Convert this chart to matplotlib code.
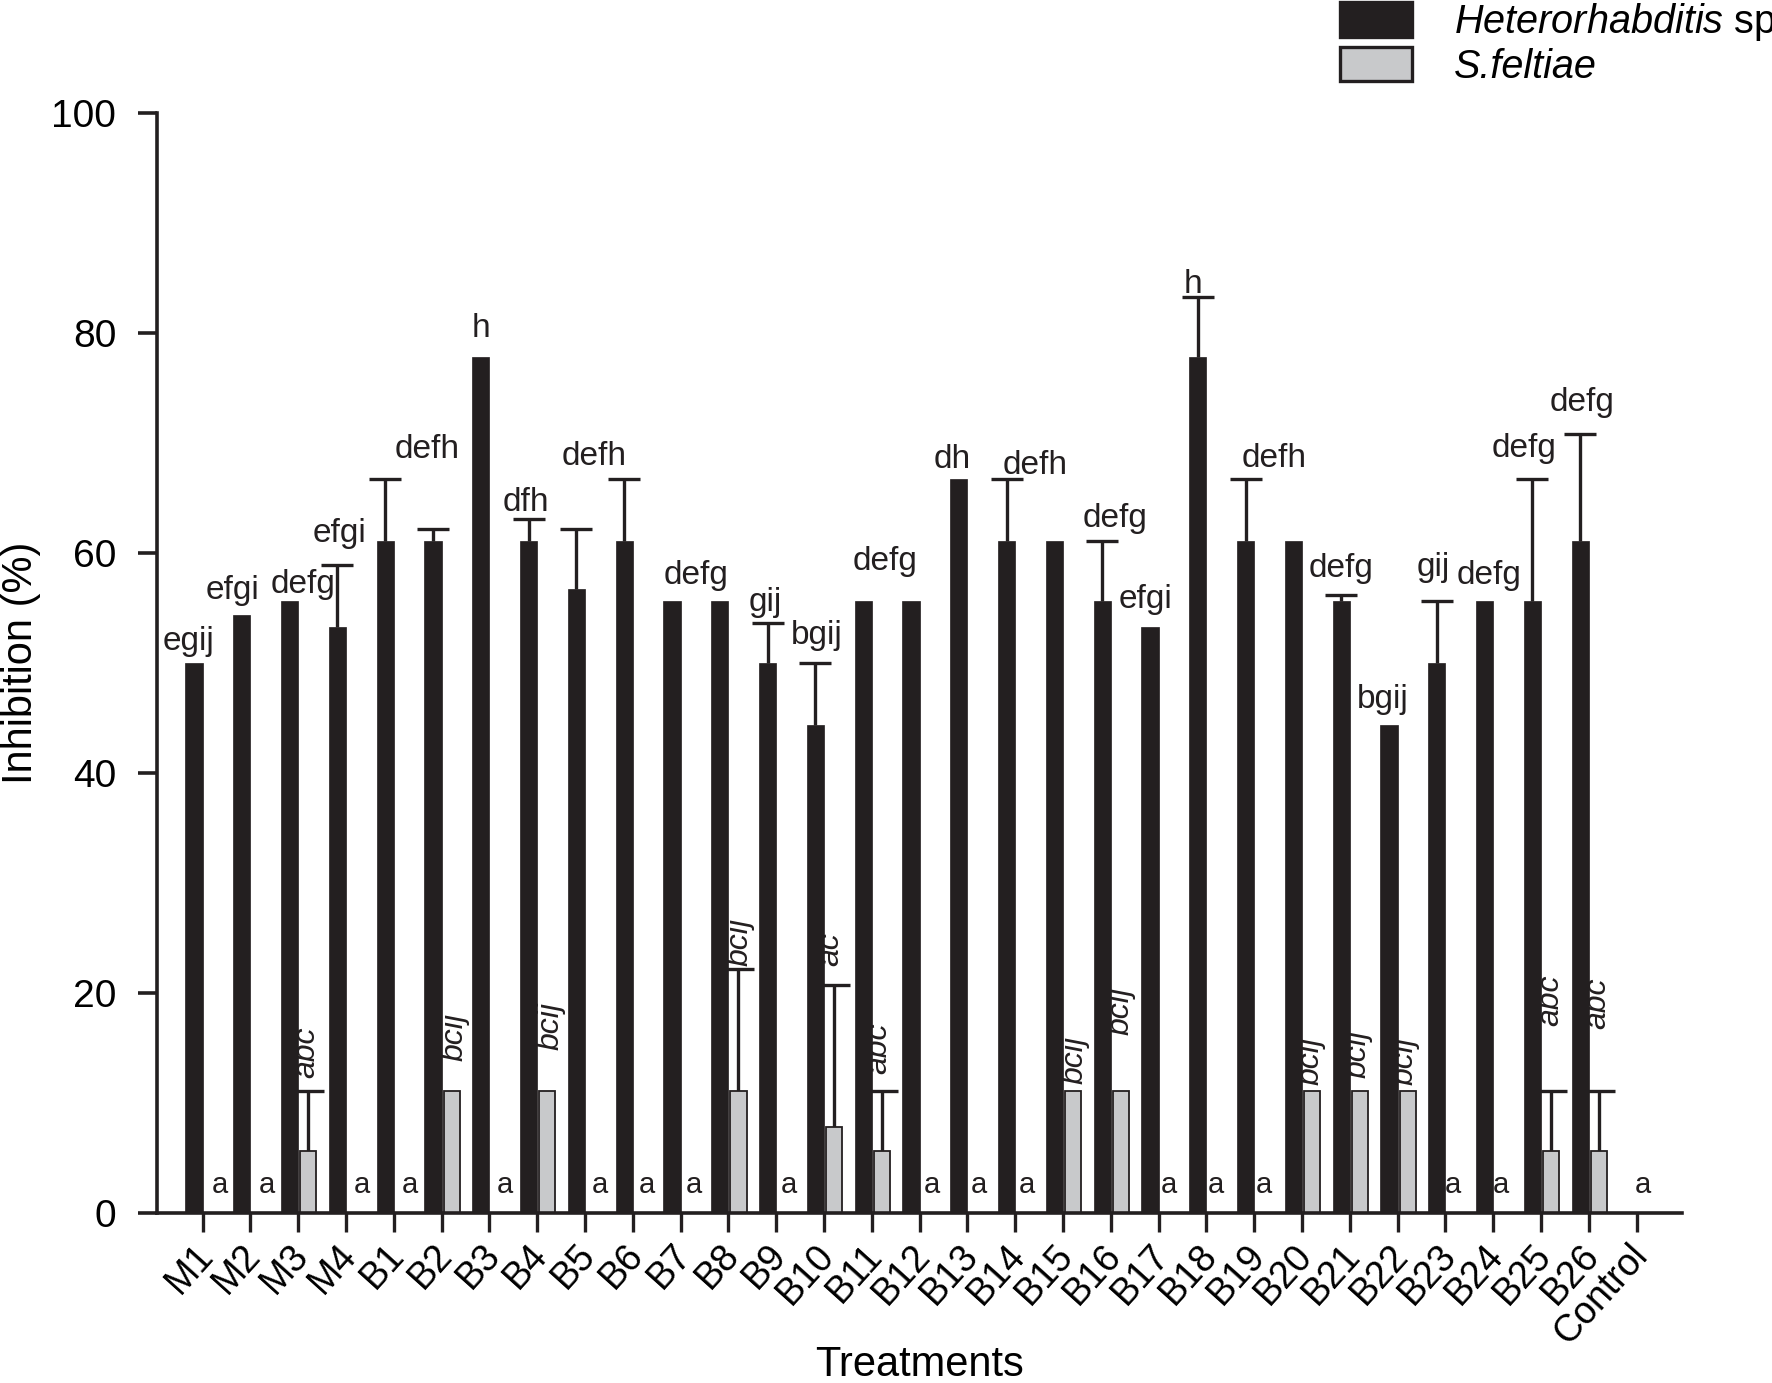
import numpy as np
import matplotlib as mpl
mpl.use('Agg')
import matplotlib.pyplot as plt
import matplotlib.transforms as mtransforms
from matplotlib.patches import Patch

plt.rcParams['font.family'] = ['Liberation Sans', 'DejaVu Sans']
plt.rcParams['mathtext.fontset'] = 'custom'
plt.rcParams['mathtext.it'] = 'Liberation Sans:italic'
plt.rcParams['mathtext.rm'] = 'Liberation Sans'

# dados
tratamentos = ['M1', 'M2', 'M3', 'M4', 'B1', 'B2', 'B3', 'B4', 'B5', 'B6', 'B7', 'B8',
               'B9', 'B10', 'B11', 'B12', 'B13', 'B14', 'B15', 'B16', 'B17', 'B18',
               'B19', 'B20', 'B21', 'B22', 'B23', 'B24', 'B25', 'B26', 'Control']

heter = [50.0, 54.4, 55.6, 53.3, 61.1, 61.1, 77.8, 61.1, 56.7, 61.1, 55.6, 55.6,
         50.0, 44.4, 55.6, 55.6, 66.7, 61.1, 61.1, 55.6, 53.3, 77.8,
         61.1, 61.1, 55.6, 44.4, 50.0, 55.6, 55.6, 61.1, 0.0]
heter_err = [0, 0, 0, 5.6, 5.6, 1.1, 0, 2.0, 5.5, 5.6, 0, 0,
             3.6, 5.6, 0, 0, 0, 5.6, 0, 5.5, 0, 5.5,
             5.6, 0, 0.6, 0, 5.6, 0, 11.1, 9.7, 0]

felt = [0, 0, 5.6, 0, 0, 11.1, 0, 11.1, 0, 0, 0, 11.1,
        0, 7.8, 5.6, 0, 0, 0, 11.1, 11.1, 0, 0,
        0, 11.1, 11.1, 11.1, 0, 0, 5.6, 5.6, 0]
felt_err = [0, 0, 5.5, 0, 0, 0, 0, 0, 0, 0, 0, 11.1,
            0, 12.9, 5.5, 0, 0, 0, 0, 0, 0, 0,
            0, 0, 0, 0, 0, 0, 5.5, 5.5, 0]

letras_heter = ['egij', 'efgi', 'defg', 'efgi', 'defh', '', 'h', 'dfh', '', 'defh', '', 'defg',
                'gij', 'bgij', 'defg', '', 'dh', 'defh', '', 'defg', 'efgi', 'h',
                'defh', '', 'defg', 'bgij', 'gij', 'defg', 'defg', 'defg', '']
letras_felt = ['a', 'a', 'abc', 'a', 'a', 'bcij', 'a', 'bcij', 'a', 'a', 'a', 'bcij',
               'a', 'ac', 'abc', 'a', 'a', 'a', 'bcij', 'bcij', 'a', 'a',
               'a', 'bcij', 'bcij', 'bcij', 'a', 'a', 'abc', 'abc', 'a']

# posicao das letras (deslocamento x, folga acima da barra)
desloc_heter = {0: (-0.12, 1.2), 1: (-0.19, 1.4), 2: (0.29, 0.8), 3: (0.04, 2.1),
                4: (0.88, 1.9), 6: (0.0, 1.8), 7: (-0.06, 0.7), 9: (-0.63, 1.3),
                11: (-0.49, 1.6), 12: (-0.05, 1.1), 13: (0.03, 1.7), 14: (0.46, 2.9),
                16: (-0.14, 1.0), 17: (0.6, 0.5), 19: (0.27, 1.3), 20: (-0.1, 1.7),
                21: (-0.1, 0.3), 22: (0.59, 1.1), 24: (0.0, 1.6), 25: (-0.13, 1.5),
                26: (-0.07, 2.3), 27: (0.1, 1.6), 28: (-0.17, 2.0), 29: (0.04, 2.1)}
desloc_felt = {2: (0.16, 1.2), 5: (0.27, 2.7), 7: (0.27, 3.7), 11: (0.24, 0.3),
               13: (0.12, 1.8), 14: (0.13, 1.5), 18: (0.25, 0.6), 19: (0.21, 5.1),
               23: (0.17, 0.5), 24: (0.17, 1.2), 25: (0.15, 0.5), 28: (0.19, 5.9),
               29: (0.18, 5.6)}

preto = '#231f20'
cinza = '#c8c9cb'

fig = plt.figure(figsize=(17.72, 13.83), dpi=100)
ax = fig.add_axes([0.0884, 0.1229, 0.8606, 0.7954])

x = np.arange(len(tratamentos))
h = np.array(heter)
he = np.array(heter_err)
f = np.array(felt)
fe = np.array(felt_err)

ax.bar(x - 0.18, h, 0.36, color=preto, edgecolor=preto, linewidth=0.5, zorder=3)
ax.bar(x + 0.21, f, 0.34, color=cinza, edgecolor=preto, linewidth=1.3, zorder=2)


def barra_erro(xs, ys, es, z):
    # so a metade de cima, sem a tampa em baixo
    eb = ax.errorbar(xs, ys, yerr=[np.zeros(len(es)), es], fmt='none', ecolor=preto,
                     elinewidth=2.4, capsize=11.2, capthick=2.4, zorder=z)
    for cap in eb[1]:
        if np.allclose(cap.get_ydata(), ys):
            cap.set_visible(False)


m = he > 0
barra_erro(x[m] - 0.18, h[m], he[m], 2.5)
m = fe > 0
barra_erro(x[m] + 0.21, f[m], fe[m], 1.9)

for i, letra in enumerate(letras_heter):
    if not letra:
        continue
    dx, folga = desloc_heter[i]
    ax.text(x[i] - 0.18 + dx, h[i] + he[i] + folga, letra, ha='center',
            va='baseline', fontsize=24, color=preto, zorder=4)

for i, letra in enumerate(letras_felt):
    if f[i] == 0:
        ax.text(x[i] + 0.36 - 0.0075 * x[i], 1.8, letra, ha='center',
                va='baseline', fontsize=21, color=preto, zorder=4)
    else:
        dx, folga = desloc_felt[i]
        ax.text(x[i] + dx, f[i] + fe[i] + folga, letra, rotation=90, style='italic',
                ha='center', va='bottom', fontsize=23, color=preto, zorder=1.5)

ax.set_xlim(-0.962, 30.94)
ax.set_ylim(0, 100)
ax.set_yticks([0, 20, 40, 60, 80, 100])
ax.spines[['top', 'right']].set_visible(False)
for s in ['left', 'bottom']:
    ax.spines[s].set_linewidth(2.6)
    ax.spines[s].set_color(preto)
ax.tick_params(axis='y', length=14, width=2.6, pad=15, labelsize=28, color=preto)
ax.tick_params(axis='x', length=13.5, width=2.4, pad=4, color=preto)
ax.set_xticks(x, tratamentos, rotation=48, ha='right', rotation_mode='anchor',
              fontsize=27)
desloca = mtransforms.ScaledTranslation(-0.09, 0, fig.dpi_scale_trans)
for lbl in ax.get_xticklabels():
    lbl.set_transform(lbl.get_transform() + desloca)

ax.set_ylabel('Inhibition (%)', fontsize=30)
ax.yaxis.set_label_coords(-0.0759, 0.5)
ax.set_xlabel('Treatments', fontsize=30)
ax.xaxis.set_label_coords(0.5, -0.148)
ax.xaxis.label.set_va('baseline')

alcas = [Patch(facecolor=preto, edgecolor=preto, linewidth=2.4),
         Patch(facecolor=cinza, edgecolor=preto, linewidth=2.4)]
leg = fig.legend(alcas, [r'$\mathit{Heterorhabditis}$ sp', 'S.feltiae'],
                 loc='upper left', bbox_to_anchor=(1340 / 1772, 1 - 1 / 1383),
                 frameon=False, fontsize=28.5, handlelength=1.82, handleheight=0.96,
                 handletextpad=1.05, labelspacing=0.1, borderpad=0, borderaxespad=0)
leg.get_texts()[1].set_style('italic')

fig.savefig('out.png', dpi=100)
